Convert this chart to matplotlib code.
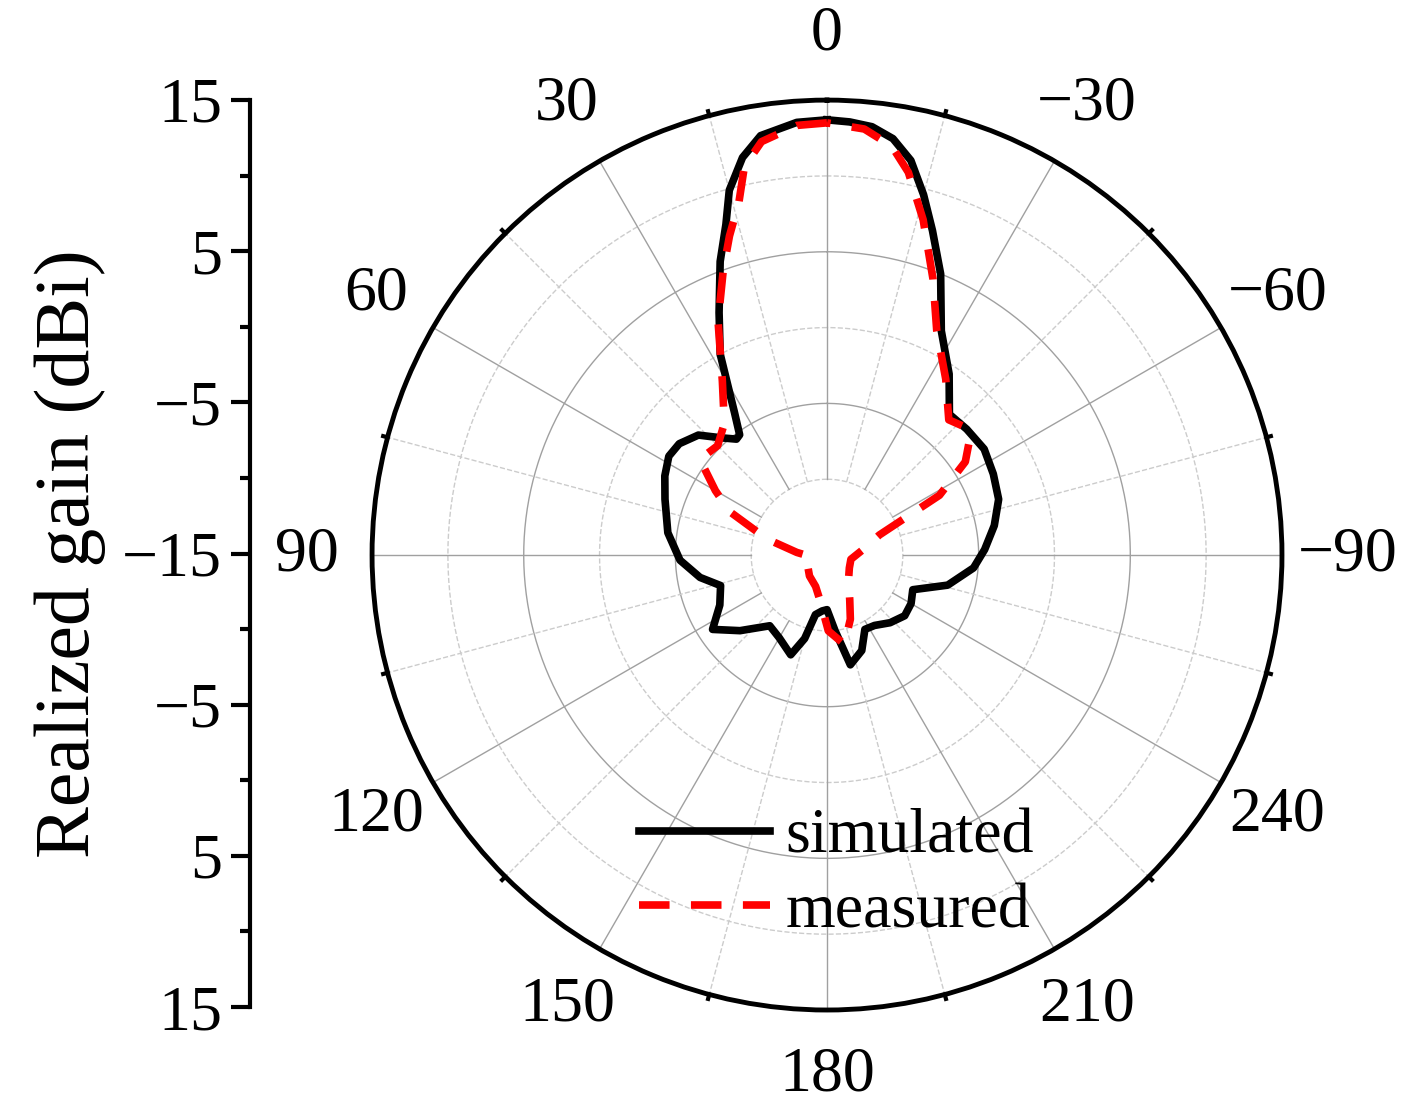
import numpy as np
import matplotlib.pyplot as plt

plt.rcParams['font.family'] = ['Liberation Serif', 'DejaVu Serif']

# angle in degrees (counter-clockwise from top), gain in dBi
sim_ang = [0, 4, 9, 12, 15, 17, 20, 24, 28, 33, 36, 38, 42, 47, 53, 58, 64, 71, 82, 92, 100, 106, 115, 123, 131,
           141, 150, 160, 165, 169, 175, 180, 186, 192, 200, 207, 214, 223, 232, 240, 248,
           256, 265, 272, 280, 288, 296, 304, 312, 319, 326, 333, 338, 342, 345, 348, 351, 354, 357, 360]
sim_db = [13.7, 13.6, 13.0, 11.8, 9.9, 7.8, 5.6, 2.5, 0.0, -3.8, -5.2, -5.3, -4.6, -3.4, -2.8, -2.7, -3.1, -3.7, -4.4, -5.3, -6.5, -7.7, -7.2, -6.0, -7.4,
          -9.0, -8.7, -8.0, -9.3, -11.0, -11.3, -11.4, -10.0, -7.6, -8.3, -9.5, -9.4, -8.9, -8.5, -8.6, -8.9,
          -6.8, -5.3, -4.6, -3.8, -3.1, -2.8, -2.5, -2.6, -2.7, -0.6, 1.6, 5.0, 7.5, 9.6, 11.6, 12.8, 13.4, 13.6, 13.7]

meas_ang = [0, 4, 9, 12, 14, 17, 20, 25, 31, 38, 45, 53, 60, 66, 75, 85, 95, 110, 140, 160, 171, 181, 191,
            200, 207, 220, 240, 260, 280, 291, 298, 304, 309, 313, 318, 326, 334, 339, 344, 348, 351, 355, 360]
meas_db = [13.5, 13.4, 12.6, 11.2, 9.0, 7.0, 5.0, 2.0, -1.6, -4.0, -4.8, -4.5, -6.5, -8.0, -10.9, -13.0, -13.9, -13.6, -13.2, -12.8, -12.0, -10.0, -9.0,
           -10.5, -11.7, -12.8, -13.3, -13.4, -12.5, -11.3, -6.6, -4.0, -2.9, -2.6, -3.0, -1.0, 1.5, 4.5, 8.0, 10.8, 12.3, 13.2, 13.5]

rmin, rmax = -15, 15

fig = plt.figure(figsize=(14.16, 11.11), dpi=100)
ax = fig.add_axes([0.2627, 0.0909, 0.6427, 0.819], projection='polar')
ax.set_theta_zero_location('N')
ax.set_theta_direction(1)
ax.set_ylim(rmin, rmax)
ax.grid(False)
ax.set_yticks([])

# grid circles
tt = np.linspace(0, 2 * np.pi, 400)
for r, ls in [(-10, '--'), (-5, '-'), (0, '--'), (5, '-'), (10, '--')]:
    ax.plot(tt, np.full_like(tt, r), color='#a0a0a0' if ls == '-' else '#cccccc',
            ls=ls, lw=1.0, zorder=1)
# spokes
for a in range(0, 360, 15):
    solid = a % 30 == 0
    ax.plot([np.radians(a)] * 2, [-10, rmax], color='#a0a0a0' if solid else '#cccccc',
            ls='-' if solid else '--', lw=1.0, zorder=1)

ax.spines['polar'].set_linewidth(3.5)
ticks = np.arange(0, 360, 30)
ax.set_xticks(np.radians(ticks))
labels = [str(t) if t <= 240 else '\u2212' + str(360 - t) for t in ticks]
ax.set_xticklabels(labels, fontsize=46)
ax.tick_params(axis='x', pad=24, direction='out', length=16, width=3)
# minor outer ticks
for a in range(15, 360, 30):
    ax.plot([np.radians(a)] * 2, [rmax, rmax + 0.3], color='black', lw=3, clip_on=False)

ax.plot(np.radians(sim_ang), sim_db, color='black', lw=5.5, label='simulated', zorder=3)
ax.plot(np.radians(meas_ang), meas_db, color='red', lw=5.5, ls=(0, (4, 2.8)), label='measured', zorder=4)

ax.legend(loc='upper left', bbox_to_anchor=(0.23, 0.285), frameon=False, fontsize=46,
          handlelength=2.05, labelspacing=0.25, handletextpad=0.25)

# left linear gain axis
lax = fig.add_axes([250 / 1416, 0.0936, 0.001, 0.8164])
lax.set_ylim(-30, 30)
for s in ['top', 'right', 'bottom']:
    lax.spines[s].set_visible(False)
lax.spines['left'].set_linewidth(3)
lax.set_xticks([])
pos = [30, 20, 10, 0, -10, -20, -30]
lax.set_yticks(pos)
lax.set_yticklabels(['15', '5', '\u22125', '\u221215', '\u22125', '5', '15'], fontsize=46)
lax.set_yticks(np.arange(-25, 30, 10), minor=True)
lax.tick_params(axis='y', which='major', length=14, width=3, pad=6)
lax.tick_params(axis='y', which='minor', length=7, width=3)
lax.set_ylabel('Realized gain (dBi)', fontsize=56, labelpad=12)

fig.savefig('out.png', dpi=100)
